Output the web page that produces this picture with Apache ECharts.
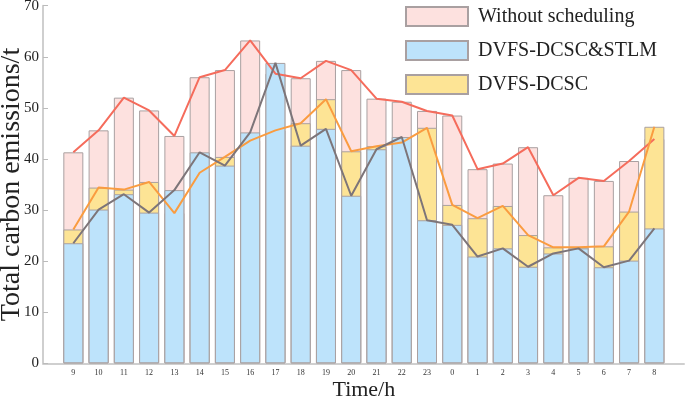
<!DOCTYPE html>
<html>
<head>
    <meta charset="utf-8">
    <title>Total carbon emissions</title>
    <script src="https://cdn.jsdelivr.net/npm/echarts@6/dist/echarts.min.js"></script>
</head>
<body style="margin:0">
    <div id="main" style="width:685px;height:398px;"></div>
    <script type="text/javascript">
        // hours
        var hours = ['9', '10', '11', '12', '13', '14', '15', '16', '17', '18', '19', '20',
            '21', '22', '23', '0', '1', '2', '3', '4', '5', '6', '7', '8'];
        // Without scheduling
        var noSched = [41.3, 45.6, 52.0, 49.5, 44.5, 56.0, 57.4, 63.2, 56.7, 55.8, 59.2, 57.4,
            51.8, 51.2, 49.4, 48.5, 38.0, 39.1, 42.3, 32.9, 36.3, 35.7, 39.6, 43.9];
        // DVFS-DCSC
        var dcsc = [26.2, 34.4, 34.0, 35.5, 29.4, 37.3, 40.4, 43.6, 45.6, 47.0, 51.7, 41.5,
            42.5, 43.2, 46.1, 31.0, 28.4, 30.8, 25.1, 22.7, 22.7, 22.9, 29.7, 46.3];
        // DVFS-DCSC&STLM
        var stlm = [23.5, 30.1, 33.1, 29.5, 33.9, 41.3, 38.7, 45.2, 58.8, 42.6, 45.9, 32.8,
            41.9, 44.3, 28.0, 27.1, 20.9, 22.5, 18.9, 21.5, 22.5, 18.8, 20.1, 26.4];

        var FONT = 'Liberation Serif';
        var myChart = echarts.init(document.getElementById('main'));

        function barSeries(name, data, color) {
            return {
                name: name,
                type: 'bar',
                data: data,
                barWidth: 20,
                barGap: '-100%',
                itemStyle: { color: color, borderColor: '#a9a0a1', borderWidth: 1 }
            };
        }
        function lineSeries(name, data, color) {
            return {
                name: name,
                type: 'line',
                data: data,
                symbol: 'none',
                z: 5,
                lineStyle: { color: color, width: 2 }
            };
        }

        var option = {
            animation: false,
            textStyle: { fontFamily: FONT },
            legend: {
                data: ['Without scheduling', 'DVFS-DCSC&STLM', 'DVFS-DCSC'],
                icon: 'rect',
                orient: 'vertical',
                left: 400,
                top: 1,
                itemWidth: 62,
                itemHeight: 19,
                itemGap: 13,
                textStyle: { fontFamily: FONT, fontSize: 20, color: '#222', padding: [0, 0, 0, 5] }
            },
            grid: [
                { left: 60.7, right: 18, top: 5.7, bottom: 34.7, outerBoundsMode: 'none' },
                { left: 43, right: 1, top: 5.7, bottom: 34.7, outerBoundsMode: 'none' }
            ],
            xAxis: [{
                type: 'category',
                data: hours,
                gridIndex: 0,
                name: 'Time/h',
                nameLocation: 'middle',
                nameGap: 16,
                nameMoveOverlap: false,
                nameTextStyle: { fontFamily: FONT, fontSize: 22, color: '#222' },
                axisLine: { show: false },
                axisTick: { alignWithLabel: true, inside: true, length: 6, lineStyle: { color: '#999' } },
                axisLabel: { fontFamily: FONT, fontSize: 8, color: '#333', margin: 6 }
            }, {
                type: 'value',
                gridIndex: 1,
                axisLine: { show: true, lineStyle: { color: '#cfcfcf', width: 2 } },
                axisTick: { show: false },
                axisLabel: { show: false },
                splitLine: { show: false }
            }],
            yAxis: [{
                type: 'value',
                gridIndex: 0,
                min: 0,
                max: 70,
                interval: 10,
                offset: 17.7,
                name: 'Total carbon emissions/t',
                nameLocation: 'middle',
                nameGap: 17,
                nameMoveOverlap: false,
                nameTextStyle: { fontFamily: FONT, fontSize: 28, color: '#222' },
                axisLine: { show: true, lineStyle: { color: '#cfcfcf', width: 2 } },
                axisTick: { show: true, inside: true, length: 5, lineStyle: { color: '#bbb' } },
                axisLabel: { fontFamily: FONT, fontSize: 15, color: '#222', margin: 4 },
                splitLine: { show: false }
            }, {
                type: 'value',
                gridIndex: 1,
                show: false
            }],
            series: [
                barSeries('Without scheduling', noSched, '#fde1df'),
                barSeries('DVFS-DCSC', dcsc, '#fde495'),
                barSeries('DVFS-DCSC&STLM', stlm, '#bde3fb'),
                lineSeries('Without scheduling (line)', noSched, '#f56c5c'),
                lineSeries('DVFS-DCSC (line)', dcsc, '#fa9c40'),
                lineSeries('DVFS-DCSC&STLM (line)', stlm, '#7d7579')
            ]
        };
        myChart.setOption(option);
    </script>
</body>
</html>
